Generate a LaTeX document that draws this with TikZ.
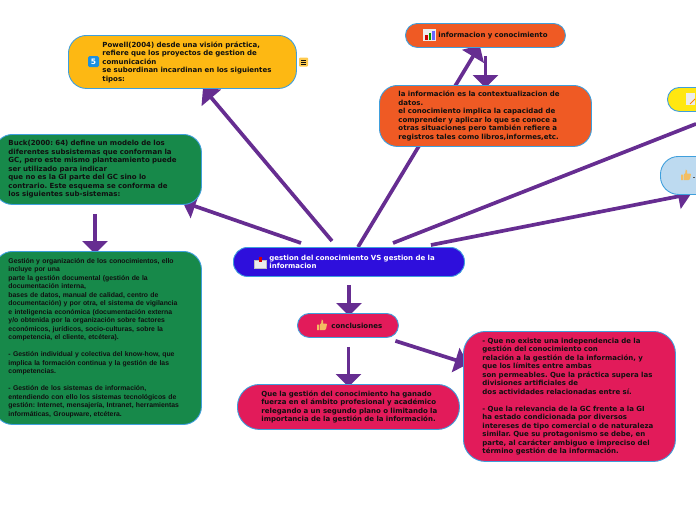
\documentclass[tikz,border=0pt]{standalone}
\usepackage{fontspec}
\setmainfont{DejaVu Sans}
\newfontfamily\libfont{Liberation Sans}
\usetikzlibrary{arrows.meta,calc,backgrounds}
\definecolor{edgeblue}{HTML}{3F9FDC}
\definecolor{connpurple}{HTML}{662D91}
\definecolor{amberfill}{HTML}{FDB813}
\definecolor{greenfill}{HTML}{17894A}
\definecolor{orangefill}{HTML}{EF5A24}
\definecolor{yellowfill}{HTML}{FFE711}
\definecolor{paleblue}{HTML}{BDDAF0}
\definecolor{indigofill}{HTML}{2E0FDC}
\definecolor{crimson}{HTML}{E21B5A}
\definecolor{inkdark}{HTML}{101010}
\definecolor{thumbcol}{HTML}{F3BE62}
\definecolor{badgeblue}{HTML}{1B90E0}
\tikzset{
  x=1pt,y=-1pt,
  mapbox/.style={draw=edgeblue,line width=0.9pt,rounded corners=#1,inner sep=0pt,align=left,anchor=north west,text=inkdark,font=\fontsize{7}{8.5}\selectfont\bfseries\frenchspacing},
  mapbox/.default=18pt,
  smallbody/.style={font=\libfont\fontsize{6.85}{8.5}\selectfont\bfseries\frenchspacing},
  conn/.style={draw=connpurple,line width=3.7pt,-{Triangle[length=13pt,width=25pt]}},
  connplain/.style={draw=connpurple,line width=3.7pt},
}
\newcommand{\thumbicon}[2]{%
  \fill[thumbcol,shift={(#1,#2)}] (-5,-0.5) rectangle (-2.7,5)
    (-2,-0.5) -- (-0.8,-1.8) -- (-0.3,-5.5) .. controls (1.2,-5.8) and (1.5,-3.5) .. (1,-1.5)
    -- (4,-1.5) .. controls (5.2,-1.5) and (5.2,0) .. (4.7,0.5) -- (4,4.2) .. controls (3.8,5) and (3,5) .. (2.5,5) -- (-2,5) -- cycle;}
\begin{document}
\begin{tikzpicture}
\useasboundingbox (0,0) rectangle (696,520);
% nodes
\node[mapbox=18pt,fill=amberfill,minimum width=228pt,minimum height=53pt,text width=160pt] (powell) at (68,35)
 {\mbox{Powell(2004) desde una visión práctica,}\\\mbox{refiere que los proyectos de gestion de}\\comunicación\\\mbox{se subordinan incardinan en los siguientes}\\tipos:};
\node[mapbox=18pt,fill=greenfill,minimum width=207pt,minimum height=70pt,text width=179pt] (buck) at (-6,134)
 {Buck(2000: 64) define un modelo de los\\diferentes subsistemas que conforman la\\\mbox{GC, pero este mismo planteamiento puede}\\ser utilizado para indicar\\que no es la GI parte del GC sino lo\\\mbox{contrario. Este esquema se conforma de}\\los siguientes sub-sistemas:};
\node[mapbox=18pt,smallbody,fill=greenfill,minimum width=207pt,minimum height=173pt,text width=179pt] (gestion) at (-6,251)
 {\mbox{Gestión y organización de los conocimientos, ello}\\incluye por una\\parte la gestión documental (gestión de la\\documentación interna,\\bases de datos, manual de calidad, centro de\\\mbox{documentación) y por otra, el sistema de vigilancia}\\\mbox{e inteligencia económica (documentación externa}\\\mbox{y/o obtenida por la organización sobre factores}\\económicos, jurídicos, socio-culturas, sobre la\\competencia, el cliente, etcétera).\\[8.5pt]\mbox{- Gestión individual y colectiva del know-how, que}\\\mbox{implica la formación continua y la gestión de las}\\competencias.\\[8.5pt]- Gestión de los sistemas de información,\\\mbox{entendiendo con ello los sistemas tecnológicos de}\\\mbox{gestión: Internet, mensajería, Intranet, herramientas}\\informáticas, Groupware, etcétera.};
\node[mapbox=12pt,fill=orangefill,minimum width=160pt,minimum height=24pt,text width=94pt] (info) at (405,23)
 {\mbox{informacion y conocimiento}};
\node[mapbox=18pt,fill=orangefill,minimum width=212pt,minimum height=61pt,text width=174pt] (lainfo) at (379,85)
 {\mbox{la información es la contextualizacion de}\\datos.\\el conocimiento implica la capacidad de\\comprender y aplicar lo que se conoce a\\otras situaciones pero también refiere a\\registros tales como libros,informes,etc.};
\node[mapbox=12pt,fill=yellowfill,minimum width=60pt,minimum height=24pt] (yellow) at (667,87) {};
\node[mapbox=18pt,fill=paleblue,minimum width=70pt,minimum height=38pt] (pale) at (660,156) {};
\node[mapbox=14pt,fill=indigofill,text=white,minimum width=231pt,minimum height=29pt,text width=159pt] (central) at (233,247)
 {\mbox{gestion del conocimiento VS gestion de la}\\informacion};
\node[mapbox=12pt,fill=crimson,minimum width=101pt,minimum height=24pt,text width=33pt] (concl) at (297,313) {\mbox{conclusiones}};
\node[mapbox=22pt,fill=crimson,minimum width=222pt,minimum height=45pt,text width=174pt] (quela) at (237,384)
 {\mbox{Que la gestión del conocimiento ha ganado}\\\mbox{fuerza en el ámbito profesional y académico}\\\mbox{relegando a un segundo plano o limitando la}\\\mbox{importancia de la gestión de la información.}};
\node[mapbox=22pt,fill=crimson,minimum width=212pt,minimum height=130pt,text width=174pt] (detail) at (463,331)
 {- Que no existe una independencia de la\\gestión del conocimiento con\\\mbox{relación a la gestión de la información, y}\\que los límites entre ambas\\\mbox{son permeables. Que la práctica supera las}\\divisiones artificiales de\\dos actividades relacionadas entre sí.\\[8.5pt]- Que la relevancia de la GC frente a la GI\\ha estado condicionada por diversos\\\mbox{intereses de tipo comercial o de naturaleza}\\similar. Que su protagonismo se debe, en\\\mbox{parte, al carácter ambiguo e impreciso del}\\término gestión de la información.};
% icons
\node[fill=badgeblue,rounded corners=1.5pt,text=white,font=\fontsize{7.5}{8}\selectfont\bfseries,minimum size=11pt,inner sep=0pt] (badge) at (93.5,61.5) {5};
\node[fill=amberfill!75,rounded corners=1pt,minimum size=9pt,inner sep=0pt] (menuicon) at (303.5,62) {};
\foreach \yy in {-2,0,2} \draw[inkdark,line width=0.7pt] ($(menuicon.center)+(-2.5,\yy)$) -- ($(menuicon.center)+(2.5,\yy)$);
\fill[gray!15] (423,29) rectangle (436,41);
\fill[red!80!black] (425,35) rectangle (427.5,40);
\fill[green!60!black] (428.5,33) rectangle (431,40);
\fill[blue!60] (432,31) rectangle (434.5,40);
\fill[gray!15,draw=gray!50,line width=0.4pt] (254.5,260) rectangle (266,268);
\fill[red!85!black] (258.5,256.5) rectangle (261.5,261.5);
\thumbicon{322}{325}
\fill[gray!15] (686,93) rectangle (695,105);
\draw[orange,line width=0.8pt] (690,104) -- (695,99);
\thumbicon{686}{175}
\fill[gray!70!black] (692.5,176.5) rectangle (695,177.5);
% connectors
\begin{scope}[on background layer]
\draw[conn] ($(central.north west)+(99,-6)$) -- ($(powell.south west)+(135,-1)$);
\draw[conn] ($(central.north west)+(68,-4)$) -- ($(buck.south east)+(-19.3,-3)$);
\draw[conn] ($(central.north west)+(125,0)$) -- ($(info.south west)+(74.7,-2.6)$);
\draw[conn] ($(info.south west)+(80.5,8)$) -- ($(lainfo.north west)+(106.5,3)$);
\draw[connplain] ($(central.north west)+(160,-4)$) -- ($(yellow.south west)+(29,12)$);
\draw[conn] ($(central.north east)+(-34,-2)$) -- ($(pale.south west)+(31,-1)$);
\draw[conn] ($(central.south west)+(116,8)$) -- ($(concl.north west)+(52,3)$);
\draw[conn] ($(concl.south west)+(51.5,9)$) -- ($(quela.north west)+(111.5,3)$);
\draw[conn] ($(concl.south east)+(-3.5,3)$) -- ($(detail.north west)+(5,33)$);
\draw[conn] ($(buck.south west)+(101,9)$) -- ($(gestion.north west)+(101,3)$);
\end{scope}
\end{tikzpicture}
\end{document}
